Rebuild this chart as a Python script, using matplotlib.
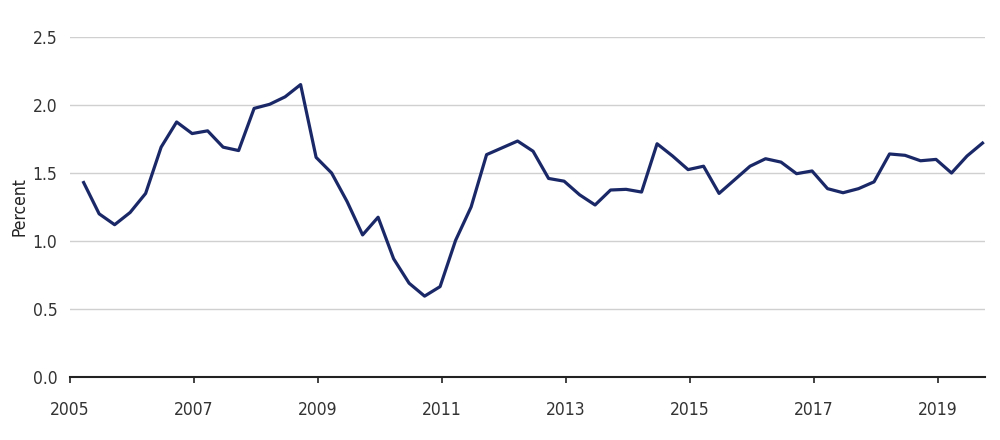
import numpy as np
import matplotlib.pyplot as plt

# quarterly values, starting Q1 2005
start_year = 2005.22
values = [1.43, 1.20, 1.12, 1.21, 1.35, 1.69, 1.875, 1.79, 1.81, 1.69,
          1.665, 1.975, 2.005, 2.06, 2.15, 1.615, 1.50, 1.29, 1.045, 1.175,
          0.87, 0.69, 0.595, 0.665, 1.005, 1.25, 1.635, 1.685, 1.735, 1.66,
          1.46, 1.44, 1.34, 1.265, 1.375, 1.38, 1.36, 1.715, 1.625, 1.525,
          1.55, 1.35, 1.45, 1.55, 1.605, 1.58, 1.495, 1.515, 1.385, 1.355,
          1.385, 1.435, 1.64, 1.63, 1.59, 1.60, 1.50, 1.625, 1.72]
years = start_year + 0.25 * np.arange(len(values))

xticks = [2005, 2007, 2009, 2011, 2013, 2015, 2017, 2019]
yticks = [0.0, 0.5, 1.0, 1.5, 2.0, 2.5]

plt.rcParams['font.family'] = ['DejaVu Sans']
plt.rcParams['font.stretch'] = 'condensed'
plt.rcParams['font.size'] = 12.5

fig, ax = plt.subplots(figsize=(10, 4.4), dpi=100)
fig.subplots_adjust(left=0.07, right=0.985, top=0.916, bottom=0.143)

for y in yticks[1:]:
    ax.axhline(y, color='#d0d0d0', linewidth=1, zorder=1)

ax.plot(years, values, color='#1a2868', linewidth=2.3, zorder=3)

ax.set_xlim(2005, 2019.76)
ax.set_ylim(0, 2.5)
ax.set_xticks(xticks)
ax.set_xticklabels([str(x) for x in xticks])
ax.set_yticks(yticks)
ax.set_yticklabels([f"{y:.1f}" for y in yticks])
ax.tick_params(axis='y', length=0, pad=9, labelcolor='#333333')
ax.tick_params(axis='x', length=4, width=1.2, color='#222222', pad=13, labelcolor='#333333')
ax.set_ylabel("Percent", color='#222222', labelpad=3)

for s in ['top', 'right', 'left']:
    ax.spines[s].set_visible(False)
ax.spines['bottom'].set_color('#222222')
ax.spines['bottom'].set_linewidth(1.5)

fig.savefig("out.png", dpi=100)
